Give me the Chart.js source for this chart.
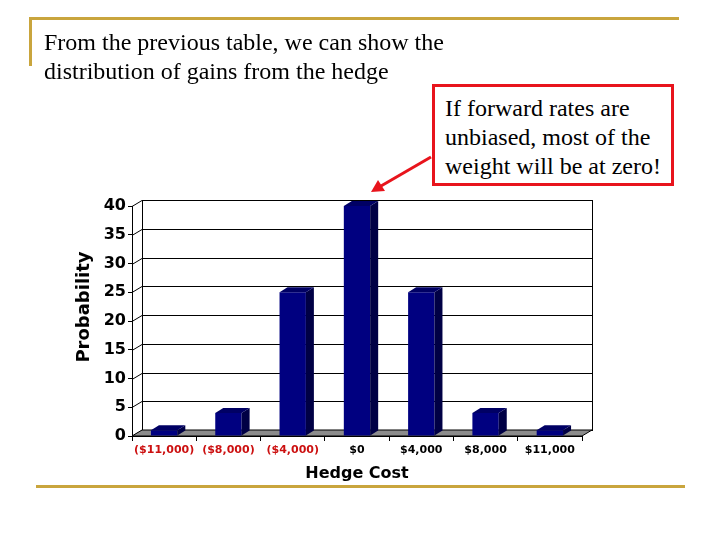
<!DOCTYPE html>
<html>
<head>
<meta charset="utf-8">
<script src="https://cdn.jsdelivr.net/npm/chart.js@4/dist/chart.umd.min.js"></script>
<style>
  html, body { margin: 0; padding: 0; background: #fff; }
  #slide { position: relative; width: 720px; height: 540px; overflow: hidden; }
  #grafica { position: absolute; left: 0; top: 0; }
  .linea { position: absolute; background: #c9a53d; }
  .texto { position: absolute; font-family: "Liberation Serif", "Times New Roman", serif; font-size: 24px; line-height: 29px; color: #000; white-space: nowrap; }
  #caja { position: absolute; left: 432px; top: 84px; width: 236px; height: 96px; border: 3px solid #e8141c; background: #fff; }
  #flecha { position: absolute; left: 0; top: 0; }
</style>
</head>
<body>
<div id="slide">
  <canvas id="grafica" width="720" height="540"></canvas>
  <div class="linea" style="left:29px; top:17px; width:650px; height:3px;"></div>
  <div class="linea" style="left:29px; top:17px; width:3px; height:49px;"></div>
  <div class="linea" style="left:36px; top:485px; width:649px; height:3px;"></div>
  <div class="texto" style="left:44px; top:28px;">From the previous table, we can show the<br>distribution of gains from the hedge</div>
  <div id="caja"></div>
  <div class="texto" style="left:445px; top:94px;">If forward rates are<br>unbiased, most of the<br>weight will be at zero!</div>
  <svg id="flecha" width="720" height="540">
    <line x1="431" y1="157" x2="381" y2="186" stroke="#e8141c" stroke-width="3"/>
    <polygon points="371,192 378,180 385,191" fill="#e8141c"/>
  </svg>
</div>
<script>
// Datos
const categorias = ["($11,000)", "($8,000)", "($4,000)", "$0", "$4,000", "$8,000", "$11,000"];
const probabilidades = [1, 4, 25, 40, 25, 4, 1];
const marcasY = [0, 5, 10, 15, 20, 25, 30, 35, 40];

const PROF_X = 10;   // profundidad de la pared
const PROF_Y = 6;
const BARRA_X = 8;   // profundidad de las barras
const BARRA_Y = 5;

const pared3d = {
  id: "pared3d",
  beforeDatasetsDraw(chart) {
    const { ctx, chartArea, scales } = chart;
    const { left, right, top, bottom } = chartArea;
    ctx.save();
    ctx.lineWidth = 1;
    ctx.strokeStyle = "#000";
    // pared del fondo
    ctx.fillStyle = "#fff";
    ctx.fillRect(left + PROF_X, top - PROF_Y, right - left, bottom - top);
    ctx.strokeRect(left + PROF_X + 0.5, top - PROF_Y + 0.5, right - left, bottom - top);
    marcasY.forEach(v => {
      const y = Math.round(scales.y.getPixelForValue(v)) + 0.5;
      ctx.beginPath();
      ctx.moveTo(left + PROF_X, y - PROF_Y);
      ctx.lineTo(right + PROF_X, y - PROF_Y);
      ctx.stroke();
      ctx.beginPath();
      ctx.moveTo(left, y);
      ctx.lineTo(left + PROF_X, y - PROF_Y);
      ctx.stroke();
    });
    // piso gris
    ctx.fillStyle = "#8c8c8c";
    ctx.beginPath();
    ctx.moveTo(left, bottom);
    ctx.lineTo(right, bottom);
    ctx.lineTo(right + PROF_X, bottom - PROF_Y);
    ctx.lineTo(left + PROF_X, bottom - PROF_Y);
    ctx.closePath();
    ctx.fill();
    ctx.stroke();
    ctx.restore();
  }
};

const barras3d = {
  id: "barras3d",
  afterDatasetsDraw(chart) {
    const { ctx } = chart;
    ctx.save();
    chart.getDatasetMeta(0).data.forEach(bar => {
      const x1 = bar.x - bar.width / 2;
      const x2 = bar.x + bar.width / 2;
      const y = bar.y;
      const base = bar.base;
      ctx.fillStyle = "#000045";
      ctx.beginPath();
      ctx.moveTo(x2, y);
      ctx.lineTo(x2 + BARRA_X, y - BARRA_Y);
      ctx.lineTo(x2 + BARRA_X, base - BARRA_Y);
      ctx.lineTo(x2, base);
      ctx.closePath();
      ctx.fill();
      ctx.fillStyle = "#000064";
      ctx.beginPath();
      ctx.moveTo(x1, y);
      ctx.lineTo(x1 + BARRA_X, y - BARRA_Y);
      ctx.lineTo(x2 + BARRA_X, y - BARRA_Y);
      ctx.lineTo(x2, y);
      ctx.closePath();
      ctx.fill();
    });
    ctx.restore();
  }
};

const tituloY = {
  id: "tituloY",
  afterDraw(chart) {
    const { ctx } = chart;
    ctx.save();
    ctx.translate(84, 307);
    ctx.rotate(-Math.PI / 2);
    ctx.font = "bold 18px 'DejaVu Sans', sans-serif";
    ctx.fillStyle = "#000";
    ctx.textAlign = "center";
    ctx.textBaseline = "middle";
    ctx.fillText("Probability", 0, 0);
    ctx.restore();
  }
};

new Chart(document.getElementById("grafica"), {
  type: "bar",
  data: {
    labels: categorias,
    datasets: [{
      data: probabilidades,
      backgroundColor: "#000080",
      borderWidth: 0,
      categoryPercentage: 1,
      barPercentage: 0.41
    }]
  },
  options: {
    responsive: false,
    animation: false,
    devicePixelRatio: 1,
    layout: { padding: { left: 60, right: 138, top: 206, bottom: 54 } },
    plugins: { legend: { display: false }, tooltip: { enabled: false } },
    scales: {
      x: {
        afterFit: scale => { scale.height = 50; },
        grid: { drawOnChartArea: false, tickLength: 5, color: "#000", offset: true },
        border: { display: true, color: "#000" },
        ticks: {
          padding: 3,
          autoSkip: false,
          maxRotation: 0,
          minRotation: 0,
          font: { family: "'DejaVu Sans', sans-serif", size: 11, weight: "bold" },
          color: c => (String(categorias[c.index]).startsWith("(") ? "#cc1010" : "#000")
        },
        title: {
          display: true,
          text: "Hedge Cost",
          color: "#000",
          padding: { top: 0, bottom: 3 },
          font: { family: "'DejaVu Sans', sans-serif", size: 16, weight: "bold" }
        }
      },
      y: {
        min: 0,
        max: 40,
        afterFit: scale => { scale.width = 72; },
        afterBuildTicks: scale => { scale.ticks = marcasY.map(v => ({ value: v })); },
        grid: { drawOnChartArea: false, tickLength: 4, color: "#000" },
        border: { display: true, color: "#000" },
        ticks: {
          padding: 2,
          color: "#000",
          font: { family: "'DejaVu Sans', sans-serif", size: 16, weight: "bold" }
        }
      }
    }
  },
  plugins: [pared3d, barras3d, tituloY]
});
</script>
</body>
</html>
